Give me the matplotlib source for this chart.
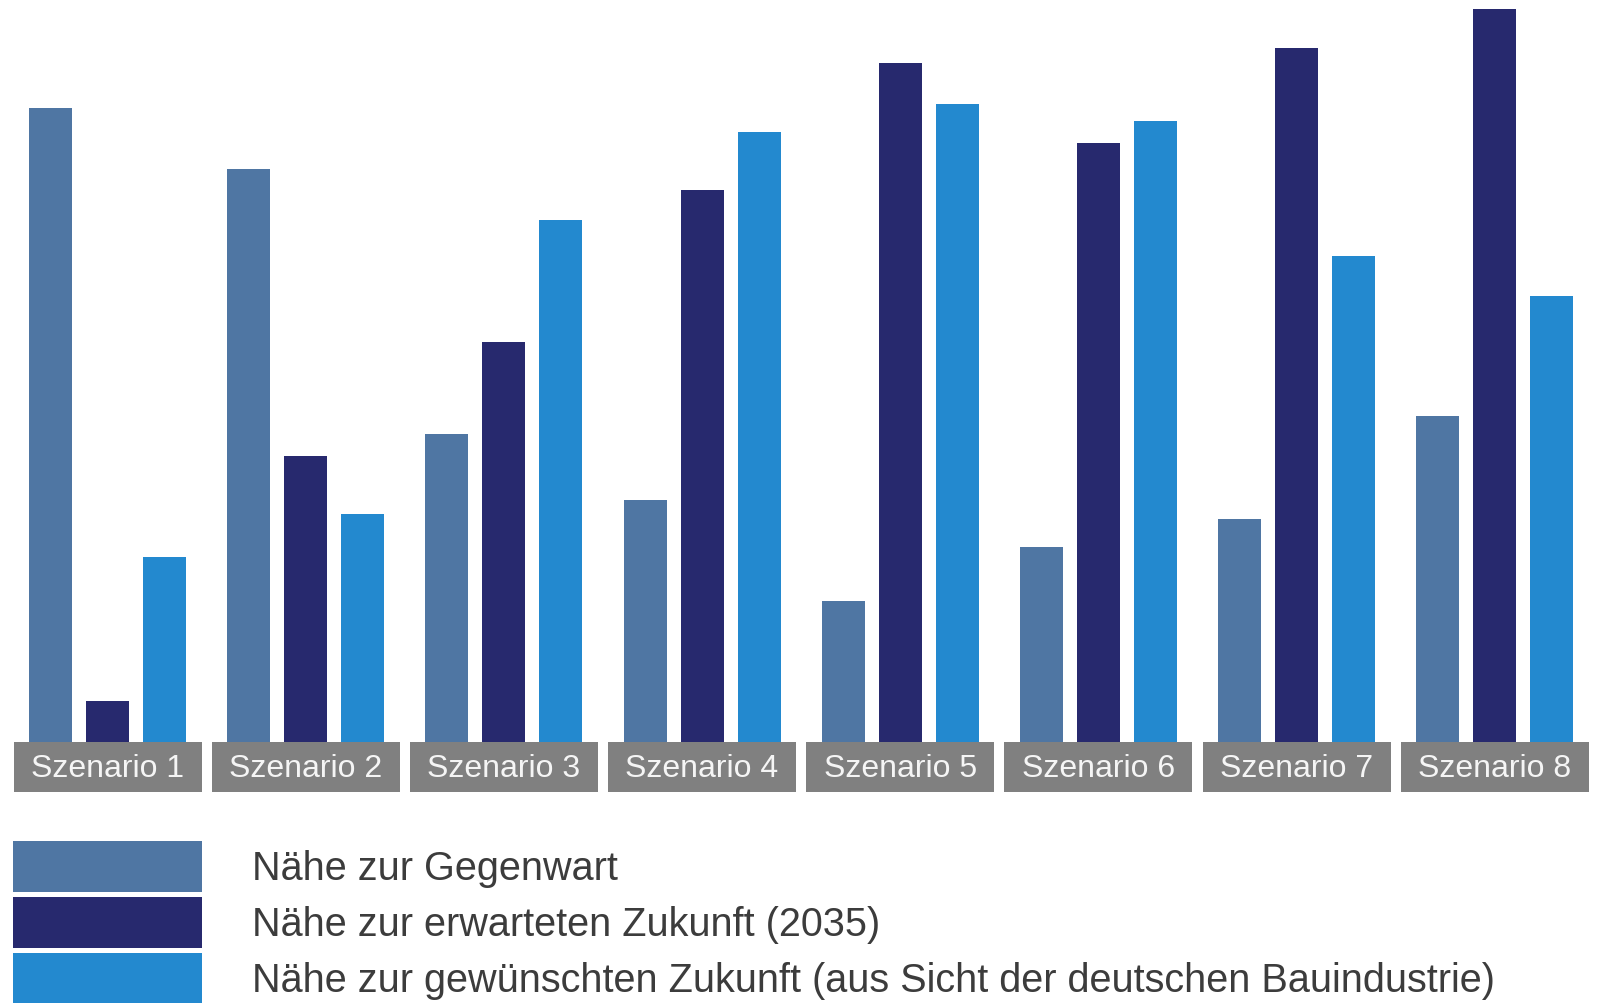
import numpy as np
import matplotlib.pyplot as plt
from matplotlib.patches import Rectangle

scenarios = ["Szenario 1", "Szenario 2", "Szenario 3", "Szenario 4",
             "Szenario 5", "Szenario 6", "Szenario 7", "Szenario 8"]
series_names = ["Nähe zur Gegenwart",
                "Nähe zur erwarteten Zukunft (2035)",
                "Nähe zur gewünschten Zukunft (aus Sicht der deutschen Bauindustrie)"]
gegenwart = [634, 573, 308, 242, 141, 195, 223, 326]
erwartet = [41, 286, 400, 552, 679, 599, 694, 733]
gewuenscht = [185, 228, 522, 610, 638, 621, 486, 446]
colors = ["#4f76a3", "#27296e", "#2389cf"]

W, H = 1600, 1004
fig = plt.figure(figsize=(W / 100, H / 100), dpi=100)

# bar area: baseline at 743 px from top
base = 743
ax = fig.add_axes([0, (H - base) / H, 1, base / H])
pitch, c0 = 198.2, 107.5
ax.set_xlim(-c0 / pitch, (W - c0) / pitch)
ax.set_ylim(0, base)
ax.axis("off")

x = np.arange(len(scenarios))
off, bw = 57 / pitch, 43 / pitch
for i, vals in enumerate([gegenwart, erwartet, gewuenscht]):
    ax.bar(x + (i - 1) * off, vals, width=bw, color=colors[i], linewidth=0)

# grey category boxes under the bars
boxw = 188 / pitch
for xi, name in zip(x, scenarios):
    ax.add_patch(Rectangle((xi - boxw / 2, -50), boxw, 50, facecolor="#808080",
                           edgecolor="none", clip_on=False))
    ax.text(xi, -26, name, ha="center", va="center", color="#f5f5f5",
            fontsize=23, family=["Liberation Sans", "DejaVu Sans"],
            clip_on=False)

# legend
lg = fig.add_axes([0, 0, 1, (H - 820) / H])
lg.set_xlim(0, W)
lg.set_ylim(H, 820)
lg.axis("off")
for i, name in enumerate(series_names):
    y0 = 842 + i * 56
    lg.add_patch(Rectangle((13, y0), 189, 51, facecolor=colors[i], edgecolor="none",
                           clip_on=False))
    lg.text(252, y0 + 27, name, ha="left", va="center", color="#3c3c3c",
            fontsize=28.5, family=["Liberation Sans", "DejaVu Sans"])

fig.savefig("out.png", dpi=100, facecolor="white")
